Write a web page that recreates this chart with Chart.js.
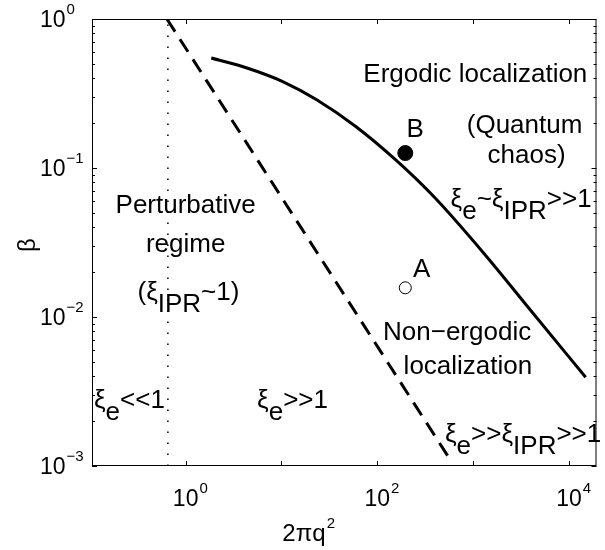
<!DOCTYPE html>
<html>
<head>
<meta charset="utf-8">
<script src="https://cdn.jsdelivr.net/npm/chart.js@4/dist/chart.umd.min.js"></script>
<style>
  html, body { margin: 0; padding: 0; background: #fff; }
  #wrap { width: 605px; height: 550px; }
</style>
</head>
<body>
<div id="wrap"><canvas id="chart" width="605" height="550"></canvas></div>
<script>
// solid boundary curve
const curveX = [1.851, 4.445, 10.18, 23.32, 60.09, 154.9, 399.5, 1305, 4264, 14960];
const curveY = [0.547, 0.4675, 0.3819, 0.2873, 0.1893, 0.1137, 0.0631, 0.0266, 0.01052, 0.00394];
// dashed boundary (slope -1)
const dashX = [0.638, 568];
const dashY = [1, 0.00112];
// dotted vertical line
const dotX = [0.653, 0.653];
const dotY = [0.001, 1];
// marked points
const pointNames = ['A', 'B'];
const pointX = [196, 196];
const pointY = [0.0157, 0.126];

// axis ticks
const xTickValues = [1, 10, 100, 1000, 10000];
const xLabelValues = [1, 100, 10000];
const xLabelExps = ['0', '2', '4'];
const yTickValues = [1, 0.1, 0.01, 0.001];
const yLabelExps = ['0', '\u22121', '\u22122', '\u22123'];
const yMinorSteps = [2, 3, 4, 5, 6, 7, 8, 9];

const FONT = "'Liberation Sans', Arial, Helvetica, sans-serif";

// text notes, parts: [text, subscript?]
const notes = [
  {x: 1055, y: 0.378, parts: [['Ergodic localization', 0]]},
  {x: 249, y: 0.1614, parts: [['B', 0]]},
  {x: 3445, y: 0.1718, parts: [['(Quantum', 0]]},
  {x: 3612, y: 0.108, parts: [['chaos)', 0]]},
  {x: 3170, y: 0.0547, parts: [['\u03be', 0], ['e', 1], ['~', 0], ['\u03be', 0], ['IPR', 1], ['>>1', 0]]},
  {x: 1, y: 0.0499, parts: [['Perturbative', 0]]},
  {x: 1, y: 0.0273, parts: [['regime', 0]]},
  {x: 1.07, y: 0.0130, parts: [['(\u03be', 0], ['IPR', 1], ['~1)', 0]]},
  {x: 0.259, y: 0.00245, parts: [['\u03be', 0], ['e', 1], ['<<1', 0]]},
  {x: 13.05, y: 0.00245, parts: [['\u03be', 0], ['e', 1], ['>>1', 0]]},
  {x: 290, y: 0.01855, parts: [['A', 0]]},
  {x: 681, y: 0.00701, parts: [['Non\u2212ergodic', 0]]},
  {x: 883, y: 0.00414, parts: [['localization', 0]]},
  {x: 3326, y: 0.00145, parts: [['\u03be', 0], ['e', 1], ['>>', 0], ['\u03be', 0], ['IPR', 1], ['>>1', 0]]}
];

function drawParts(ctx, parts, x, y, size) {
  ctx.font = size + 'px ' + FONT;
  let w = 0;
  parts.forEach(p => { w += ctx.measureText(p[0]).width; });
  let cx = x - w / 2;
  parts.forEach(p => {
    ctx.fillText(p[0], cx, y + (p[1] ? 12 : 0));
    cx += ctx.measureText(p[0]).width;
  });
}

// "10" with a small exponent
function drawPow(ctx, exp, x, y, align) {
  ctx.font = '23px ' + FONT;
  const w1 = ctx.measureText('10').width;
  let left = align === 'center' ? x - w1 / 2 : x;
  ctx.fillText('10', left, y);
  ctx.font = '15px ' + FONT;
  ctx.fillText(exp, left + w1 + 1, y - 13);
}

const framePlugin = {
  id: 'frame',
  afterDraw(chart) {
    const {ctx, chartArea: a, scales: {x, y}} = chart;
    ctx.save();
    ctx.strokeStyle = '#000';
    ctx.fillStyle = '#000';
    ctx.lineWidth = 1;
    ctx.strokeRect(a.left + 0.5, a.top + 0.5, a.right - a.left - 1, a.bottom - a.top - 1);

    ctx.beginPath();
    xTickValues.forEach(v => {
      const px = Math.round(x.getPixelForValue(v)) + 0.5;
      ctx.moveTo(px, a.bottom); ctx.lineTo(px, a.bottom - 5);
      ctx.moveTo(px, a.top); ctx.lineTo(px, a.top + 5);
    });
    yTickValues.forEach(v => {
      const py = Math.round(y.getPixelForValue(v)) + 0.5;
      ctx.moveTo(a.left, py); ctx.lineTo(a.left + 5, py);
      ctx.moveTo(a.right, py); ctx.lineTo(a.right - 5, py);
      if (v < 1) {
        yMinorSteps.forEach(k => {
          const pm = Math.round(y.getPixelForValue(v * k)) + 0.5;
          ctx.moveTo(a.left, pm); ctx.lineTo(a.left + 3, pm);
          ctx.moveTo(a.right, pm); ctx.lineTo(a.right - 3, pm);
        });
      }
    });
    ctx.stroke();

    ctx.textAlign = 'left';
    ctx.textBaseline = 'alphabetic';
    xLabelValues.forEach((v, i) => {
      drawPow(ctx, xLabelExps[i], x.getPixelForValue(v), 506, 'center');
    });
    yTickValues.forEach((v, i) => {
      drawPow(ctx, yLabelExps[i], 40, y.getPixelForValue(v) + 8, 'left');
    });

    // axis titles
    ctx.font = '24px ' + FONT;
    const tw = ctx.measureText('2\u03c0q').width;
    const tx = 304 - tw / 2;
    ctx.fillText('2\u03c0q', tx, 541);
    ctx.font = '15px ' + FONT;
    ctx.fillText('2', tx + tw + 1, 528);

    ctx.save();
    ctx.translate(35, 245);
    ctx.rotate(-Math.PI / 2);
    ctx.font = '24px ' + FONT;
    ctx.textAlign = 'center';
    ctx.fillText('\u03b2', 0, 0);
    ctx.restore();

    notes.forEach(n => {
      drawParts(ctx, n.parts, x.getPixelForValue(n.x), y.getPixelForValue(n.y), 26);
    });
    ctx.restore();
  }
};

const ctx = document.getElementById('chart').getContext('2d');
new Chart(ctx, {
  type: 'scatter',
  data: {
    datasets: [
      {
        label: 'boundary',
        data: curveX.map((v, i) => ({x: v, y: curveY[i]})),
        showLine: true,
        borderColor: '#000',
        borderWidth: 3,
        pointRadius: 0,
        cubicInterpolationMode: 'monotone'
      },
      {
        label: 'dashed',
        data: dashX.map((v, i) => ({x: v, y: dashY[i]})),
        showLine: true,
        borderColor: '#000',
        borderWidth: 3,
        borderDash: [15, 9],
        pointRadius: 0
      },
      {
        label: 'dotted',
        data: dotX.map((v, i) => ({x: v, y: dotY[i]})),
        showLine: true,
        borderColor: '#000',
        borderWidth: 1.5,
        borderDash: [1.5, 9.5],
        pointRadius: 0
      },
      {
        label: pointNames[0],
        data: [{x: pointX[0], y: pointY[0]}],
        pointRadius: 6,
        pointBackgroundColor: '#fff',
        pointBorderColor: '#000',
        pointBorderWidth: 1
      },
      {
        label: pointNames[1],
        data: [{x: pointX[1], y: pointY[1]}],
        pointRadius: 7.5,
        pointBackgroundColor: '#000',
        pointBorderColor: '#000',
        pointBorderWidth: 1
      }
    ]
  },
  options: {
    responsive: false,
    animation: false,
    layout: { padding: { left: 92, top: 19, right: 1, bottom: 84 } },
    plugins: { legend: { display: false }, tooltip: { enabled: false } },
    scales: {
      x: { type: 'logarithmic', display: false, min: 0.1054, max: 19400, bounds: 'data' },
      y: { type: 'logarithmic', display: false, min: 0.001, max: 1, bounds: 'data' }
    }
  },
  plugins: [framePlugin]
});
</script>
</body>
</html>
